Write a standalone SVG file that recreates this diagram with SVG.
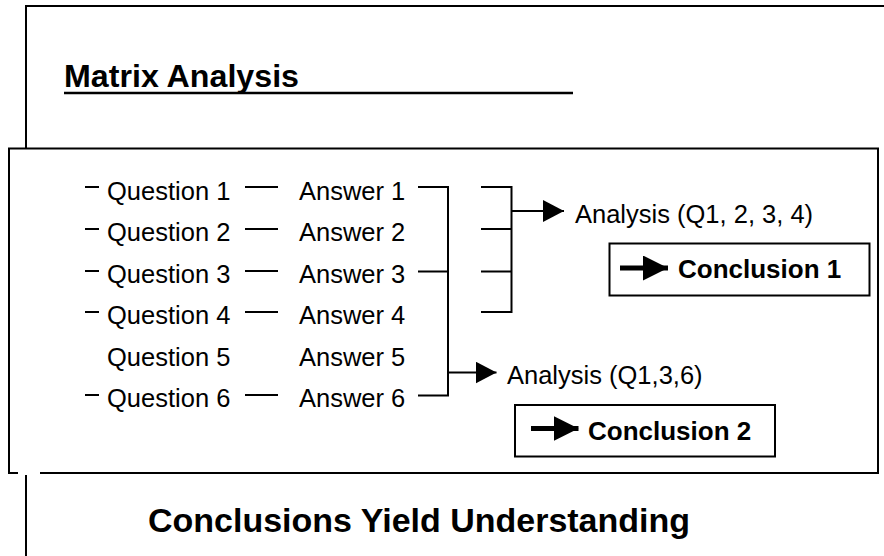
<svg xmlns="http://www.w3.org/2000/svg" width="884" height="556" viewBox="0 0 884 556">
<style>
.ln{stroke:#000;stroke-width:2;fill:none}
.fr{stroke:#000;stroke-width:2;fill:none}
.t{font-family:"Liberation Sans",Arial,sans-serif;font-size:25.5px;fill:#000}
.b{font-family:"Liberation Sans",Arial,sans-serif;font-weight:bold;fill:#000}
</style>
<defs>
<marker id="ah" markerUnits="userSpaceOnUse" markerWidth="22" markerHeight="22" refX="21" refY="11" orient="auto">
<path d="M0,0 L21,11 L0,22 Z" fill="#000"/>
</marker>
<marker id="ahb" markerUnits="userSpaceOnUse" markerWidth="26" markerHeight="26" refX="25" refY="12.5" orient="auto">
<path d="M0,0 L25,12.5 L0,25 Z" fill="#000"/>
</marker>
</defs>
<rect width="884" height="556" fill="#fff"/>
<g id="frame">
<path class="fr" d="M884,6 H26 V148"/>
<path class="fr" d="M26,475 V556"/>
<path class="ln" d="M18,473 H9 V148.5 H878 V473 H40"/>
</g>
<g id="title">
<text class="b" x="64" y="87" font-size="32" textLength="235" lengthAdjust="spacingAndGlyphs">Matrix Analysis</text>
<line x1="64" y1="93" x2="573" y2="93" stroke="#000" stroke-width="2.5"/>
</g>
<g id="questions">
<text class="t" x="107" y="199.5">Question 1</text>
<text class="t" x="107" y="241">Question 2</text>
<text class="t" x="107" y="282.5">Question 3</text>
<text class="t" x="107" y="324">Question 4</text>
<text class="t" x="107" y="365.5">Question 5</text>
<text class="t" x="107" y="407">Question 6</text>
</g>
<g id="answers">
<text class="t" x="299" y="199.5">Answer 1</text>
<text class="t" x="299" y="241">Answer 2</text>
<text class="t" x="299" y="282.5">Answer 3</text>
<text class="t" x="299" y="324">Answer 4</text>
<text class="t" x="299" y="365.5">Answer 5</text>
<text class="t" x="299" y="407">Answer 6</text>
</g>
<g id="analysis1">
<text class="t" x="575" y="222.5" font-size="26">Analysis (Q1, 2, 3, 4)</text>
</g>
<g id="analysis2">
<text class="t" x="507" y="384" font-size="26">Analysis (Q1,3,6)</text>
</g>
<g id="conclusion1">
<rect x="609.5" y="243.5" width="260" height="52" class="ln"/>
<line x1="620" y1="268" x2="668" y2="268" stroke="#000" stroke-width="5" marker-end="url(#ahb)"/>
<text class="b" x="678" y="278" font-size="26">Conclusion 1</text>
</g>
<g id="conclusion2">
<rect x="515" y="405" width="260" height="51.5" class="ln"/>
<line x1="531" y1="428.6" x2="578.5" y2="428.6" stroke="#000" stroke-width="5" marker-end="url(#ahb)"/>
<text class="b" x="588" y="439.7" font-size="26">Conclusion 2</text>
</g>
<g id="footer">
<text class="b" x="148" y="532" font-size="33.5" textLength="542" lengthAdjust="spacingAndGlyphs">Conclusions Yield Understanding</text>
</g>
<g id="connectors">
<path class="ln" d="M85,187 H99 M85,229 H99 M85,271 H99 M85,312 H99 M85,395 H99"/>
<path class="ln" d="M245,187 H278 M245,229 H278 M245,271 H278 M245,312 H278 M245,395 H278"/>
<path class="ln" d="M418,187 H448 V395.5 H418 M418,271.5 H448"/>
<path class="ln" d="M481,187 H511.5 V312 H481 M481,229 H511.5 M481,271.5 H511.5"/>
<line class="ln" x1="511.5" y1="211" x2="564" y2="211" marker-end="url(#ah)"/>
<line class="ln" x1="448" y1="372.5" x2="496.5" y2="372.5" marker-end="url(#ah)"/>
</g>
</svg>
